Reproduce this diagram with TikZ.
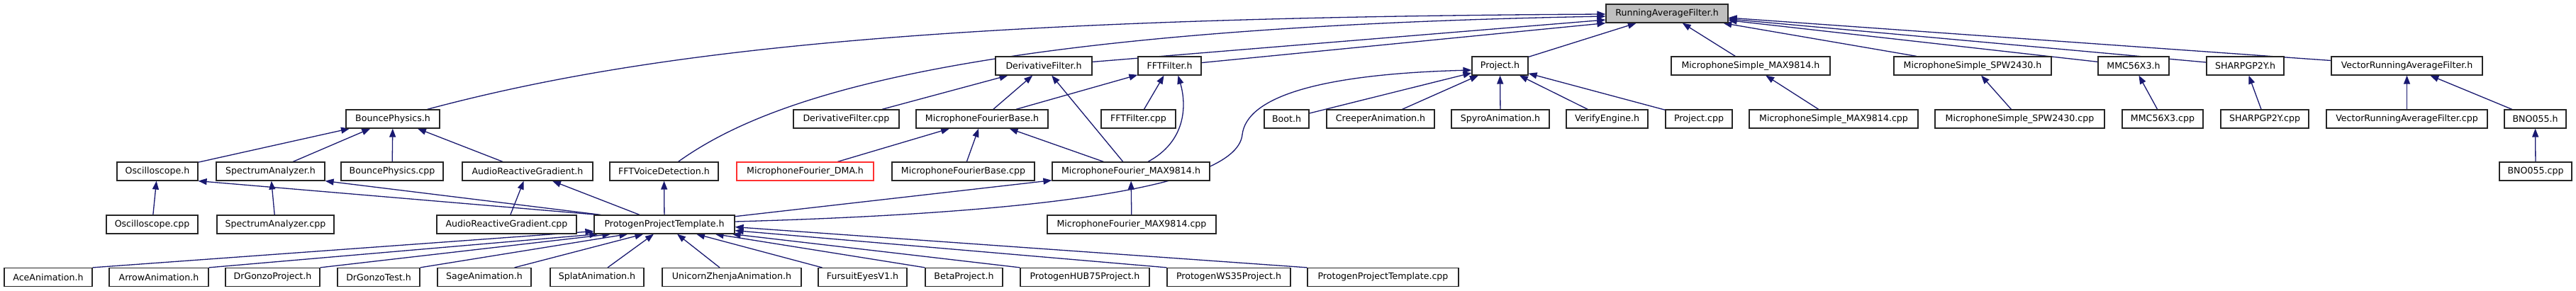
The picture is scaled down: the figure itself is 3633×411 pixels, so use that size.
\documentclass[tikz,border=0pt]{standalone}
\usepackage{fontspec}
\setmainfont{DejaVu Sans}
\usetikzlibrary{arrows.meta}
\definecolor{edgecol}{HTML}{191970}
\definecolor{nodegray}{HTML}{BFBFBF}
\definecolor{redborder}{HTML}{FF3030}
\pgfdeclarelayer{bg}
\pgfsetlayers{bg,main}
\begin{document}
\begin{tikzpicture}[x=1pt,y=-1pt,
  box/.style={draw=black!85, line width=1.2pt, fill=white, rectangle, inner sep=0pt,
    minimum height=26pt, font=\fontsize{12.6}{15}\selectfont},
  rootbox/.style={box, fill=nodegray},
  redbox/.style={box, draw=redborder},
  dep/.style={draw=edgecol, line width=1.3pt, arrows={Triangle[length=12pt,width=9pt]-}}]
\begin{pgfonlayer}{bg}
\fill[white] (0,0) rectangle (3633,411);
\end{pgfonlayer}
\useasboundingbox (0,0) rectangle (3633,411);

% row 0
\node[rootbox, minimum width=172] (raf) at (2351,19) {RunningAverageFilter.h};
% row 1
\node[box, minimum width=136] (dfh) at (1472,93) {DerivativeFilter.h};
\node[box, minimum width=89] (ffth) at (1649.5,93) {FFTFilter.h};
\node[box, minimum width=79] (prjh) at (2115.5,93) {Project.h};
\node[box, minimum width=224] (msmh) at (2469,93) {MicrophoneSimple\_MAX9814.h};
\node[box, minimum width=222] (msph) at (2782,93) {MicrophoneSimple\_SPW2430.h};
\node[box, minimum width=100] (mmch) at (3009,93) {MMC56X3.h};
\node[box, minimum width=109] (shh) at (3166.5,93) {SHARPGP2Y.h};
\node[box, minimum width=213] (vrah) at (3394.5,93) {VectorRunningAverageFilter.h};
% row 2
\node[box, minimum width=132] (bph) at (554,168) {BouncePhysics.h};
\node[box, minimum width=149] (dfcpp) at (1193.5,168) {DerivativeFilter.cpp};
\node[box, minimum width=186] (mfbh) at (1385,168) {MicrophoneFourierBase.h};
\node[box, minimum width=105] (fftcpp) at (1605.5,168) {FFTFilter.cpp};
\node[box, minimum width=63] (boot) at (1814.5,168) {Boot.h};
\node[box, minimum width=152] (creeper) at (1947,168) {CreeperAnimation.h};
\node[box, minimum width=138] (spyro) at (2116,168) {SpyroAnimation.h};
\node[box, minimum width=115] (verify) at (2266.5,168) {VerifyEngine.h};
\node[box, minimum width=94] (prjcpp) at (2396,168) {Project.cpp};
\node[box, minimum width=238] (msmcpp) at (2586,168) {MicrophoneSimple\_MAX9814.cpp};
\node[box, minimum width=239] (mspcpp) at (2848.5,168) {MicrophoneSimple\_SPW2430.cpp};
\node[box, minimum width=114] (mmccpp) at (3050,168) {MMC56X3.cpp};
\node[box, minimum width=124] (shcpp) at (3194,168) {SHARPGP2Y.cpp};
\node[box, minimum width=227] (vracpp) at (3394.5,168) {VectorRunningAverageFilter.cpp};
\node[box, minimum width=87] (bnoh) at (3575.5,168) {BNO055.h};
% row 3
\node[box, minimum width=114] (osch) at (222,242) {Oscilloscope.h};
\node[box, minimum width=153] (sah) at (381.5,242) {SpectrumAnalyzer.h};
\node[box, minimum width=144] (bpcpp) at (553,242) {BouncePhysics.cpp};
\node[box, minimum width=184] (argh) at (744,242) {AudioReactiveGradient.h};
\node[box, minimum width=153] (fftvd) at (936.5,242) {FFTVoiceDetection.h};
\node[redbox, minimum width=193] (mfdma) at (1135.5,242) {MicrophoneFourier\_DMA.h};
\node[box, minimum width=201] (mfbcpp) at (1358.5,242) {MicrophoneFourierBase.cpp};
\node[box, minimum width=222] (mfmaxh) at (1595,242) {MicrophoneFourier\_MAX9814.h};
\node[box, minimum width=102] (bnocpp) at (3576,242) {BNO055.cpp};
% row 4
\node[box, minimum width=129] (osccpp) at (214.5,317) {Oscilloscope.cpp};
\node[box, minimum width=165] (sacpp) at (388.5,317) {SpectrumAnalyzer.cpp};
\node[box, minimum width=197] (argcpp) at (714.5,317) {AudioReactiveGradient.cpp};
\node[box, minimum width=198] (ppth) at (937,317) {ProtogenProjectTemplate.h};
\node[box, minimum width=238] (mfmaxcpp) at (1596,317) {MicrophoneFourier\_MAX9814.cpp};
% row 5
\node[box, minimum width=124] (ace) at (68,391.5) {AceAnimation.h};
\node[box, minimum width=140] (arrow) at (224,391.5) {ArrowAnimation.h};
\node[box, minimum width=133] (dgp) at (384.5,391.5) {DrGonzoProject.h};
\node[box, minimum width=116] (dgt) at (534,391.5) {DrGonzoTest.h};
\node[box, minimum width=132] (sage) at (683,391.5) {SageAnimation.h};
\node[box, minimum width=132] (splat) at (842,391.5) {SplatAnimation.h};
\node[box, minimum width=196] (unicorn) at (1032,391.5) {UnicornZhenjaAnimation.h};
\node[box, minimum width=125] (fursuit) at (1216.5,391.5) {FursuitEyesV1.h};
\node[box, minimum width=109] (beta) at (1359.5,391.5) {BetaProject.h};
\node[box, minimum width=182] (hub) at (1530,391.5) {ProtogenHUB75Project.h};
\node[box, minimum width=174] (ws) at (1733,391.5) {ProtogenWS35Project.h};
\node[box, minimum width=213] (pptcpp) at (1950.5,391.5) {ProtogenProjectTemplate.cpp};

\begin{pgfonlayer}{bg}
% into RunningAverageFilter.h
\draw[dep] ([yshift=-1pt]raf.west) .. controls (1300,25) and (900,75) .. ([xshift=-18pt]bph.north east);
\draw[dep] ([yshift=-4pt]raf.west) .. controls (1350,40) and (1080,140) .. ([xshift=20pt]fftvd.north);
\draw[dep] ([yshift=-9pt]raf.west) -- (dfh);
\draw[dep] (raf.south west) -- (ffth);
\draw[dep] (raf) -- (prjh);
\draw[dep] (raf) -- (msmh);
\draw[dep] (raf) -- (msph);
\draw[dep] (raf) -- (mmch);
\draw[dep] (raf) -- (shh);
\draw[dep] (raf) -- (vrah);
% DerivativeFilter.h
\draw[dep] (dfh) -- (dfcpp);
\draw[dep] (dfh) -- (mfbh);
\draw[dep] (dfh) -- (mfmaxh);
% FFTFilter.h
\draw[dep] (ffth) -- (mfbh);
\draw[dep] (ffth) -- (fftcpp);
\draw[dep] ([xshift=12pt]ffth.south) .. controls (1674,150) and (1672,200) .. ([xshift=24pt]mfmaxh.north);
% Project.h
\draw[dep] (prjh) -- (boot);
\draw[dep] (prjh) -- (creeper);
\draw[dep] (prjh) -- (spyro);
\draw[dep] (prjh) -- (verify);
\draw[dep] (prjh) -- (prjcpp);
\draw[dep] ([yshift=-6pt]prjh.west) .. controls (1850,105) and (1758,140) .. (1752,190)
   .. controls (1745,260) and (1500,300) .. ([yshift=4pt]ppth.east);
% MicrophoneFourierBase.h
\draw[dep] (mfbh) -- (mfdma);
\draw[dep] (mfbh) -- (mfbcpp);
\draw[dep] (mfbh) -- (mfmaxh);
% MicrophoneFourier_MAX9814.h
\draw[dep] (mfmaxh) -- (mfmaxcpp);
\draw[dep] (mfmaxh) -- (ppth);
% right side
\draw[dep] (msmh) -- (msmcpp);
\draw[dep] (msph) -- (mspcpp);
\draw[dep] (mmch) -- (mmccpp);
\draw[dep] (shh) -- (shcpp);
\draw[dep] (vrah) -- (vracpp);
\draw[dep] (vrah) -- (bnoh);
\draw[dep] (bnoh) -- (bnocpp);
% BouncePhysics.h
\draw[dep] (bph) -- (osch);
\draw[dep] (bph) -- (sah);
\draw[dep] (bph) -- (bpcpp);
\draw[dep] (bph) -- (argh);
% row 3 -> row 4
\draw[dep] (osch) -- (osccpp);
\draw[dep] (osch.south east) -- ([xshift=6pt]ppth.north west);
\draw[dep] (sah) -- (sacpp);
\draw[dep] (sah.south east) -- ([xshift=10pt]ppth.north west);
\draw[dep] (argh) -- (argcpp);
\draw[dep] (argh) -- (ppth);
\draw[dep] (fftvd) -- (ppth);
% ProtogenProjectTemplate.h includers
\draw[dep] ([yshift=4pt]ppth.south west) -- (ace.north east);
\draw[dep] ([xshift=6pt]ppth.south west) -- (arrow.north east);
\draw[dep] ([xshift=24pt]ppth.south west) -- (dgp.north east);
\draw[dep] ([xshift=48pt]ppth.south west) -- (dgt.north east);
\draw[dep] ([xshift=70pt]ppth.south west) -- ([xshift=-24pt]sage.north east);
\draw[dep] ([xshift=-15pt]ppth.south) -- ([xshift=15pt]splat.north);
\draw[dep] ([xshift=18pt]ppth.south) -- ([xshift=-17pt]unicorn.north);
\draw[dep] ([xshift=45pt]ppth.south) -- ([xshift=6pt]fursuit.north west);
\draw[dep] ([xshift=-28pt]ppth.south east) -- (beta.north west);
\draw[dep] ([xshift=-4pt]ppth.south east) -- (hub.north west);
\draw[dep] ([yshift=5pt]ppth.south east) -- (ws.north west);
\draw[dep] ([yshift=10pt]ppth.south east) -- (pptcpp.north west);
\end{pgfonlayer}
\end{tikzpicture}
\end{document}
